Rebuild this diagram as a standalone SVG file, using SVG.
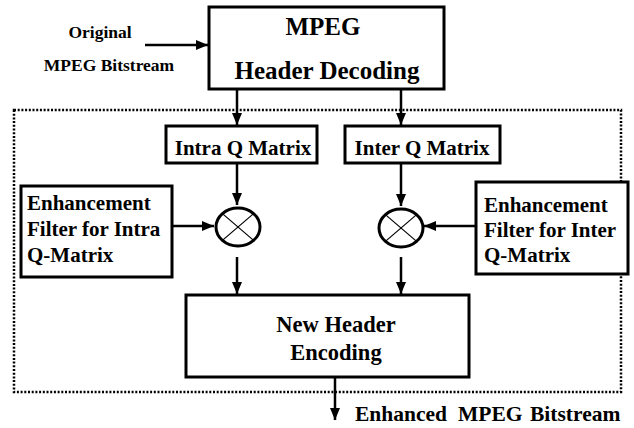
<svg xmlns="http://www.w3.org/2000/svg" width="634" height="428" viewBox="0 0 634 428">
<style>
.box{fill:#fff;stroke:#000;stroke-width:3}
.t{font-family:"Liberation Serif","Times New Roman",serif;font-weight:bold;fill:#000}
.c{stroke:#000;stroke-width:2.5;fill:none}
.x{stroke:#000;stroke-width:1.2}
.dot{fill:none;stroke:#000;stroke-width:2.5;stroke-dasharray:2 1.7}
</style>
<defs>
<marker id="ah" viewBox="0 0 12 10" refX="12" refY="5" markerWidth="12" markerHeight="10" markerUnits="userSpaceOnUse" orient="auto">
<path d="M0,0 L12,5 L0,10 z" fill="#000"/>
</marker>
</defs>
<rect id="region" class="dot" x="14" y="110" width="607" height="282"/>
<g id="input-label">
<text class="t" x="100" y="38" font-size="17.5" text-anchor="middle">Original</text>
<text class="t" x="109" y="71" font-size="17.5" text-anchor="middle">MPEG Bitstream</text>
</g>
<g id="decoder">
<rect class="box" x="209" y="7" width="235" height="82"/>
<text class="t" x="323" y="35" font-size="25" text-anchor="middle">MPEG</text>
<text class="t" x="327" y="79" font-size="25" text-anchor="middle">Header Decoding</text>
</g>
<g id="intra">
<rect class="box" x="166" y="126" width="151" height="37"/>
<text class="t" x="243" y="155" font-size="21" text-anchor="middle">Intra Q Matrix</text>
</g>
<g id="inter">
<rect class="box" x="345" y="126" width="155" height="37"/>
<text class="t" x="422" y="155" font-size="21" text-anchor="middle">Inter Q Matrix</text>
</g>
<g id="filter-intra">
<rect class="box" x="21" y="186" width="151" height="91"/>
<text class="t" x="27" y="210" font-size="21">Enhancement</text>
<text class="t" x="27" y="236" font-size="21">Filter for Intra</text>
<text class="t" x="27" y="262" font-size="21">Q-Matrix</text>
</g>
<g id="filter-inter">
<rect class="box" x="476" y="182" width="152" height="92"/>
<text class="t" x="484" y="212" font-size="21">Enhancement</text>
<text class="t" x="484" y="237" font-size="21">Filter for Inter</text>
<text class="t" x="484" y="262" font-size="21">Q-Matrix</text>
</g>
<g id="mult-intra">
<ellipse cx="238" cy="227" rx="22" ry="19" fill="#fff" stroke="#000" stroke-width="3"/>
<line class="x" x1="222.4" y1="213.6" x2="253.6" y2="240.4"/>
<line class="x" x1="253.6" y1="213.6" x2="222.4" y2="240.4"/>
</g>
<g id="mult-inter">
<ellipse cx="401" cy="228" rx="22" ry="19" fill="#fff" stroke="#000" stroke-width="3"/>
<line class="x" x1="385.4" y1="214.6" x2="416.6" y2="241.4"/>
<line class="x" x1="416.6" y1="214.6" x2="385.4" y2="241.4"/>
</g>
<g id="encoder">
<rect class="box" x="186" y="295" width="283" height="82"/>
<text class="t" x="336" y="332" font-size="22.5" text-anchor="middle">New Header</text>
<text class="t" x="336" y="360" font-size="22.5" text-anchor="middle">Encoding</text>
</g>
<g id="output-label">
<text class="t" font-size="21.5" y="421"><tspan x="355">Enhanced</tspan><tspan x="458">MPEG</tspan><tspan x="530">Bitstream</tspan></text>
</g>
<g id="connectors" class="c">
<path class="c" d="M145,45 L208,45" marker-end="url(#ah)"/>
<path class="c" d="M237,89 L237,125" marker-end="url(#ah)"/>
<path class="c" d="M401,89 L401,125" marker-end="url(#ah)"/>
<path class="c" d="M237,163 L237,205" marker-end="url(#ah)"/>
<path class="c" d="M401,163 L401,206" marker-end="url(#ah)"/>
<path class="c" d="M172,226 L214,226" marker-end="url(#ah)"/>
<path class="c" d="M476,226 L424,226" marker-end="url(#ah)"/>
<path class="c" d="M237,257 L237,294" marker-end="url(#ah)"/>
<path class="c" d="M401,257 L401,294" marker-end="url(#ah)"/>
<path class="c" d="M335,377 L335,420" marker-end="url(#ah)"/>
</g>
</svg>
